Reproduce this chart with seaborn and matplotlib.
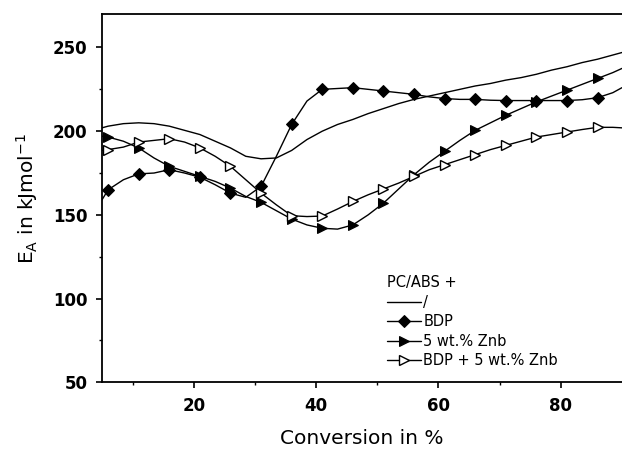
import numpy as np
import pandas as pd
import matplotlib
matplotlib.use("Agg")
import matplotlib.pyplot as plt
import seaborn as sns

# Conversion grid (%); markers sit on every other point, starting at 6 %
conversion = [5, 6, 8.5, 11, 13.5, 16, 18.5, 21, 23.5, 26, 28.5, 31, 33.5, 36,
              38.5, 41, 43.5, 46, 48.5, 51, 53.5, 56, 58.5, 61, 63.5, 66, 68.5,
              71, 73.5, 76, 78.5, 81, 83.5, 86, 88.5, 90]

# Activation energy E_A (kJ/mol) for PC/ABS + ...
ea_plain = [202, 203, 204.5, 205, 204.5, 203, 200.5, 198, 194, 190, 185, 183.5,
            184, 188.5, 195, 200, 204, 207, 210.5, 213.5, 216.5, 219, 221, 223,
            225, 227, 228.5, 230.5, 232, 234, 236.5, 238.5, 241, 243, 245.5, 247]
ea_bdp = [159, 165, 171, 174.5, 175, 177, 175, 172.5, 168, 163, 160.5, 167,
          185, 204, 218, 225, 225.5, 226, 225, 224, 223, 222, 220.5, 219.5,
          219, 219, 218.5, 218.3, 218.3, 218.3, 218.3, 218.3, 218.8, 220, 223, 226]
ea_znb = [197, 196.5, 194, 190, 184, 179, 176, 173, 170, 166, 161, 157.5,
          152.5, 147.5, 144, 142, 141.5, 144, 150, 157, 165.5, 174, 181.5, 188,
          194.5, 200.5, 205, 209.5, 213.5, 217.5, 221, 224.5, 228, 231.5, 235, 237.5]
ea_bdp_znb = [188.5, 189, 190.5, 193.5, 194.5, 195.5, 193.5, 190, 185, 179,
              171, 163, 156, 149.5, 149, 149.3, 153.5, 158, 162, 165.5, 169, 173,
              177, 180, 183, 186, 189, 191.5, 194, 196.5, 198, 199.5, 201, 202.3,
              202.3, 202]

labels = ["/", "BDP", "5 wt.% Znb", "BDP + 5 wt.% Znb"]
legend_title = "PC/ABS +"

sns.set_theme(style="ticks")
plt.rcParams["font.family"] = ["DejaVu Sans"]
plt.rcParams["text.color"] = "black"
plt.rcParams["axes.labelcolor"] = "black"
plt.rcParams["xtick.color"] = "black"
plt.rcParams["ytick.color"] = "black"

fig = plt.figure(figsize=(6.22, 4.49), dpi=100)
ax = fig.add_axes([0.164, 0.1486, 0.836, 0.8202])

df = pd.DataFrame({"x": conversion, "plain": ea_plain, "bdp": ea_bdp,
                   "znb": ea_znb, "bdp_znb": ea_bdp_znb})

marks = list(range(1, len(conversion) - 1, 2))
common = dict(ax=ax, color="black", linewidth=1.0, legend=False)

sns.lineplot(data=df, x="x", y="plain", label=labels[0], **common)
sns.lineplot(data=df, x="x", y="bdp", label=labels[1], marker="D",
             markersize=6, markevery=marks, markerfacecolor="black",
             markeredgecolor="black", **common)
sns.lineplot(data=df, x="x", y="znb", label=labels[2], marker=">",
             markersize=7, markevery=marks, markerfacecolor="black",
             markeredgecolor="black", **common)
sns.lineplot(data=df, x="x", y="bdp_znb", label=labels[3], marker=">",
             markersize=7.5, markevery=marks, markerfacecolor="white",
             markeredgecolor="black", markeredgewidth=1.0, **common)

ax.set_xlim(5, 90)
ax.set_ylim(50, 270)
ax.set_xticks([20, 40, 60, 80])
ax.set_xticks([10, 30, 50, 70], minor=True)
ax.set_yticks([50, 100, 150, 200, 250])
ax.set_yticks([75, 125, 175, 225], minor=True)

for side in ["left", "bottom", "top"]:
    ax.spines[side].set_visible(True)
    ax.spines[side].set_linewidth(1.3)
    ax.spines[side].set_color("black")
ax.spines["right"].set_visible(False)

ax.tick_params(axis="both", which="major", direction="out", length=4.5,
               width=1.2, pad=6, labelsize=12, colors="black")
ax.tick_params(axis="both", which="minor", direction="out", length=2.5,
               width=1.0, colors="black")
ax.tick_params(top=False, right=False, which="both")
for lab in ax.get_xticklabels() + ax.get_yticklabels():
    lab.set_fontweight("bold")

ax.set_xlabel("Conversion in %", fontsize=14.5, color="black", labelpad=10)
ax.set_ylabel(r"E$_\mathregular{A}$ in kJmol$^\mathregular{-1}$",
              fontsize=14.5, color="black")
ax.yaxis.set_label_coords(-0.12, 0.5)

leg = ax.legend(title=legend_title, loc="upper left",
                bbox_to_anchor=(0.548, 0.29), frameon=False, fontsize=10.5,
                title_fontsize=10.5, handlelength=2.35, handletextpad=0.15,
                labelspacing=0.3, borderpad=0, borderaxespad=0,
                alignment="left")
for t in leg.get_texts():
    t.set_color("black")
leg.get_title().set_color("black")

ax.set_facecolor("white")
fig.patch.set_facecolor("white")
fig.savefig("out.png", dpi=100, facecolor="white")
